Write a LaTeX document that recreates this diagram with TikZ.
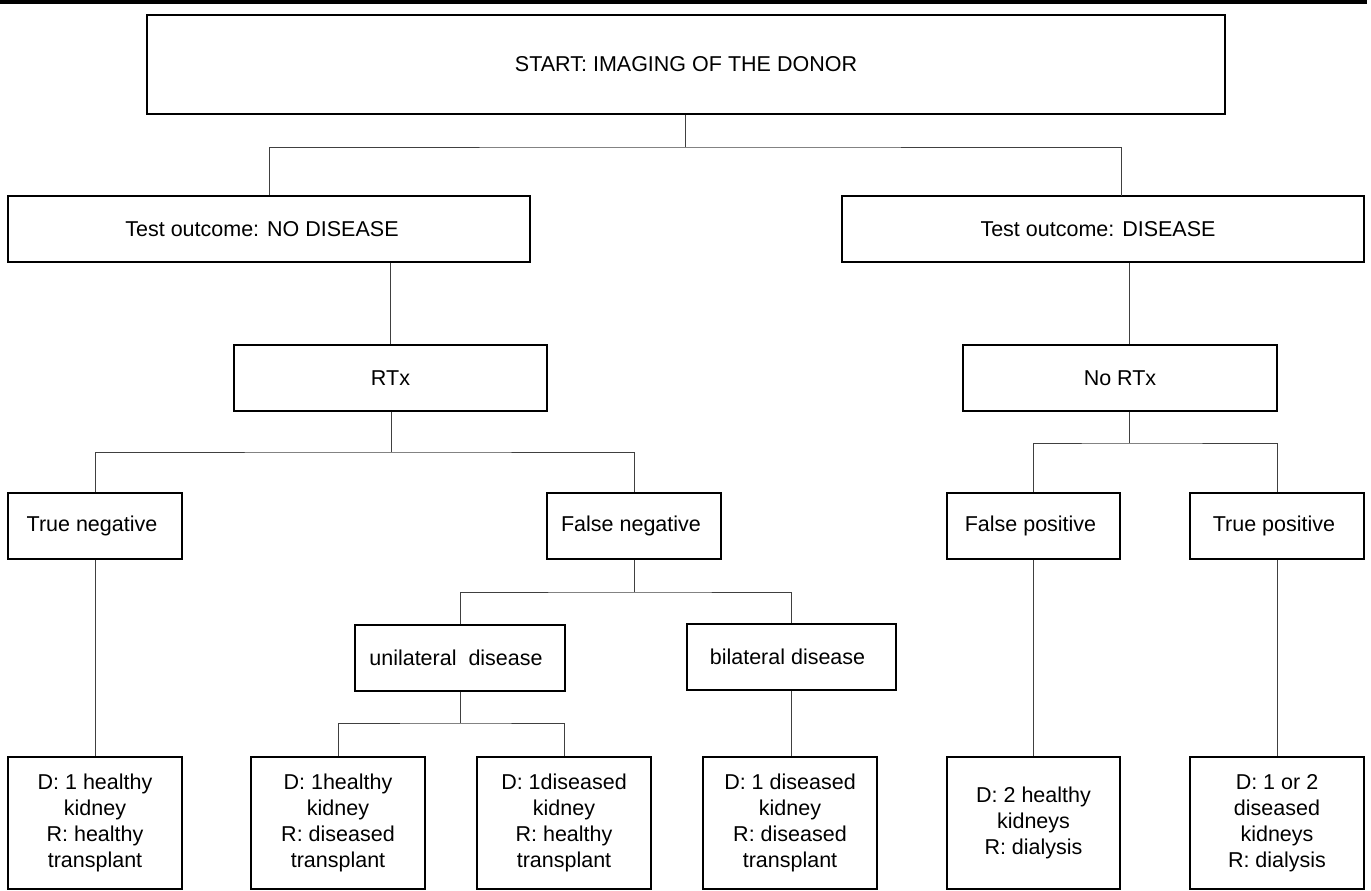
\documentclass[tikz,border=0pt]{standalone}
\usepackage{fontspec}
\setmainfont{Liberation Sans}
\begin{document}
\begin{tikzpicture}[x=1pt,y=-1pt,
  box/.style={draw=black,line width=1.3pt,rectangle,inner sep=0pt,align=center,
    font=\fontsize{21.5}{26}\selectfont},
  conn/.style={draw=black!75,line width=0.9pt}]
\useasboundingbox (0,0) rectangle (1371,891);
\fill[black] (0,0) rectangle (1367,4.5);
% level 0
\node[box,minimum width=1078,minimum height=99] (start) at (686,64.5) {START: IMAGING OF THE DONOR};
% level 1
\node[box,minimum width=522,minimum height=66] (nod) at (269,229) {\hspace*{-14pt}Test outcome: NO DISEASE};
\node[box,minimum width=522,minimum height=66] (dis) at (1103,229) {\hspace*{-10pt}Test outcome: DISEASE};
% level 2
\node[box,minimum width=313,minimum height=66] (rtx) at (390.5,378) {RTx};
\node[box,minimum width=314,minimum height=66] (nrtx) at (1120,378) {No RTx};
% level 3
\node[box,minimum width=174,minimum height=66] (tn) at (95,526) {\hspace*{-6pt}True negative};
\node[box,minimum width=174,minimum height=66] (fn) at (634,526) {\hspace*{-6pt}False negative};
\node[box,minimum width=173,minimum height=66] (fp) at (1033.5,526) {\hspace*{-6pt}False positive};
\node[box,minimum width=174,minimum height=66] (tp) at (1277,526) {\hspace*{-6pt}True positive};
% level 4
\node[box,minimum width=210,minimum height=66] (uni) at (460,658) {\hspace*{-8pt}unilateral\ \ disease};
\node[box,minimum width=209,minimum height=66] (bil) at (791.5,657) {\hspace*{-8pt}bilateral disease};
% bottom
\node[box,minimum width=174,minimum height=132] (b1) at (95,823) {D: 1 healthy\\kidney\\R: healthy\\transplant};
\node[box,minimum width=174,minimum height=132] (b2) at (338,823) {D: 1healthy\\kidney\\R: diseased\\transplant};
\node[box,minimum width=174,minimum height=132] (b3) at (564,823) {D: 1diseased\\kidney\\R: healthy\\transplant};
\node[box,minimum width=174,minimum height=132] (b4) at (790,823) {D: 1 diseased\\kidney\\R: diseased\\transplant};
\node[box,minimum width=173,minimum height=132] (b5) at (1033.5,823) {D: 2 healthy\\kidneys\\R: dialysis};
\node[box,minimum width=174,minimum height=132] (b6) at (1277,823) {D: 1 or 2\\diseased\\kidneys\\R: dialysis};
% junctions
\coordinate (j1) at (685,147);
\coordinate (disin) at (1121,196);
\coordinate (cx) at (1129,0);
\coordinate (jr) at (391,452);
\coordinate (jn) at (1129,443);
\coordinate (jf) at (634,592);
\coordinate (ju) at (460,723);
% connectors
\draw[conn] (start.south -| j1) -- (j1);
\draw[conn] (nod.north) |- (j1) -| (disin);
\draw[conn] (nod.south -| rtx.north) -- (rtx.north);
\draw[conn] (dis.south -| cx) -- (nrtx.north -| cx);
\draw[conn] (rtx.south -| jr) -- (jr);
\draw[conn] (tn.north) |- (jr) -| (fn.north);
\draw[conn] (nrtx.south -| jn) -- (jn);
\draw[conn] (fp.north) |- (jn) -| (tp.north);
\draw[conn] (fn.south) -- (jf);
\draw[conn] (uni.north) |- (jf) -| (bil.north);
\draw[conn] (uni.south) -- (ju);
\draw[conn] (b2.north) |- (ju) -| (b3.north);
\draw[conn] (tn.south) -- (b1.north);
\draw[conn] (bil.south) -- (b4.north -| bil.south);
\draw[conn] (fp.south) -- (b5.north);
\draw[conn] (tp.south) -- (b6.north);
\end{tikzpicture}
\end{document}
